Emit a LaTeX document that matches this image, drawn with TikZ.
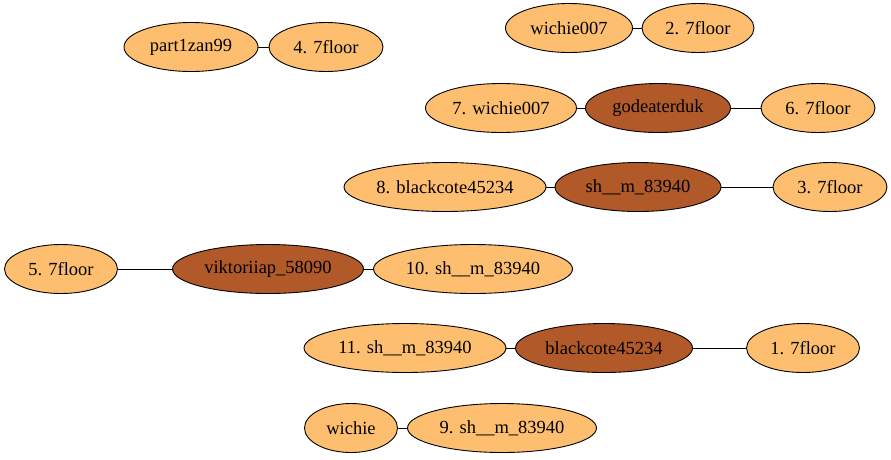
\documentclass[tikz,border=0pt]{standalone}
\usepackage{fontspec}
\setmainfont{Liberation Serif}
\usetikzlibrary{shapes.geometric}
\definecolor{leaffill}{HTML}{FDBF6F}
\definecolor{hubfill}{HTML}{B15928}
\begin{document}
\begin{tikzpicture}[x=1pt,y=-1pt,
  user/.style={ellipse,draw,line width=0.9pt,inner sep=0pt,minimum height=49pt,
    font=\fontsize{18.5pt}{20pt}\selectfont},
  leaf/.style={user,fill=leaffill},
  hub/.style={user,fill=hubfill},
  link/.style={line width=0.9pt}]
\useasboundingbox (0,0) rectangle (891,459);

\node[leaf,minimum width=127pt] (wichieA) at (569,28) {wichie007};
\node[leaf,minimum width=112pt] (floorB) at (698,28) {2. 7floor};

\node[leaf,minimum width=134pt] (part1zan) at (191,47) {part1zan99};
\node[leaf,minimum width=114pt] (floorD) at (326,47) {4. 7floor};

\node[leaf,minimum width=151pt] (wichieG) at (501,108) {7. wichie007};
\node[hub,minimum width=145pt] (godeater) at (658,108) {godeaterduk};
\node[leaf,minimum width=114pt] (floorF) at (818,108) {6. 7floor};

\node[leaf,minimum width=202pt] (blackH) at (445,187) {8. blackcote45234};
\node[hub,minimum width=166pt] (shm) at (638,187) {sh\_\_m\_83940};
\node[leaf,minimum width=114pt] (floorC) at (830,187) {3. 7floor};

\node[leaf,minimum width=113pt] (floorE) at (61,269) {5. 7floor};
\node[hub,minimum width=191pt] (viktoriia) at (268,269) {viktoriiap\_58090};
\node[leaf,minimum width=199pt] (shmJ) at (473,269) {10. sh\_\_m\_83940};

\node[leaf,minimum width=202pt] (shmK) at (405,348) {11. sh\_\_m\_83940};
\node[hub,minimum width=177pt] (blackcote) at (604,348) {blackcote45234};
\node[leaf,minimum width=113pt] (floorA) at (803,348) {1. 7floor};

\node[leaf,minimum width=93pt] (wichie) at (351,428) {wichie};
\node[leaf,minimum width=189pt] (shmI) at (502,428) {9. sh\_\_m\_83940};

\draw[link] (wichieA) -- (floorB);
\draw[link] (part1zan) -- (floorD);
\draw[link] (wichieG) -- (godeater);
\draw[link] (godeater) -- (floorF);
\draw[link] (blackH) -- (shm);
\draw[link] (shm) -- (floorC);
\draw[link] (floorE) -- (viktoriia);
\draw[link] (viktoriia) -- (shmJ);
\draw[link] (shmK) -- (blackcote);
\draw[link] (blackcote) -- (floorA);
\draw[link] (wichie) -- (shmI);
\end{tikzpicture}
\end{document}
